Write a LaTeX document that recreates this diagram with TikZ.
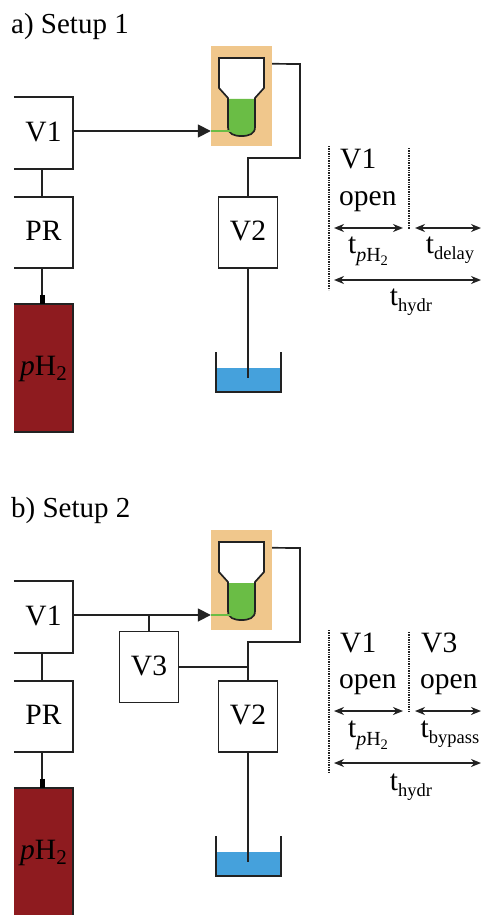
\documentclass[tikz,border=0pt]{standalone}
\usepackage{fontspec}
\setmainfont{Liberation Serif}
\usetikzlibrary{arrows.meta}
\definecolor{ink}{HTML}{222222}
\definecolor{orangebg}{HTML}{F0C78C}
\definecolor{liquid}{HTML}{6ABD45}
\definecolor{water}{HTML}{45A1DC}
\definecolor{bottle}{HTML}{8E1B1F}
\newcommand{\bigsz}{\fontsize{29.5}{31}\selectfont}
\newcommand{\titlesz}{\fontsize{29}{31}\selectfont}
\newcommand{\subsz}{\fontsize{18.5}{20}\selectfont}
\newcommand{\phsz}{\fontsize{20}{22}\selectfont}
\newcommand{\subbsz}{\fontsize{14.5}{16}\selectfont}
\newcommand{\gassz}{\fontsize{21}{23}\selectfont}
\newcommand{\tsub}[1]{{\bigsz t}\raisebox{-6pt}{\subsz #1}}
\newcommand{\tph}{{\bigsz t}\raisebox{-8pt}{\phsz \textit{p}H\raisebox{-4pt}{\subbsz 2}}}
\tikzset{
  x=1pt,y=-1pt,
  wire/.style={draw=ink,line width=1.7pt},
  boxtext/.style={minimum width=59pt,minimum height=71pt,inner sep=0pt,font=\bigsz,text=black,text height=20pt,text depth=4pt},
  valvebox/.style={wire,fill=white,boxtext},
  openbox/.style={boxtext},
  label/.style={anchor=base west,inner sep=0pt,font=\bigsz,text=black},
  titlelabel/.style={anchor=base west,inner sep=0pt,font=\titlesz,text=black},
  timelabel/.style={anchor=base,inner sep=0pt,text=black},
  dots/.style={draw=ink,line width=1.6pt,dash pattern=on 1.3pt off 1.1pt},
  span/.style={draw=ink,line width=1.7pt,{Stealth[length=10pt,width=8pt]}-{Stealth[length=10pt,width=8pt]}},
  bigarrow/.style={wire,-{Triangle[length=13pt,width=13pt]}},
  pwire/.style={wire,line join=miter}
}
\newcommand{\rig}{%
  % pH2 bottle
  \node[minimum width=59pt,minimum height=128pt,inner sep=0pt,fill=bottle,font=\bigsz,text=black,text height=20pt,text depth=6pt] (gas) at (43.5,368) {\textit{p}H\raisebox{-5pt}{\gassz 2}};
  \draw[wire] (gas.north west) -- (gas.north east) -- (gas.south east) -- (gas.south west);
  % V1 and PR
  \node[openbox] (v1) at (43.5,133) {V1};
  \draw[wire] (v1.north west) -- (v1.north east) -- (v1.south east) -- (v1.south west);
  \node[openbox] (pr) at (43.5,232.5) {PR};
  \draw[wire] (pr.north west) -- (pr.north east) -- (pr.south east) -- (pr.south west);
  \draw[wire] ([xshift=-1.2pt]v1.south) -- ([xshift=-1.2pt]pr.north);
  \draw[wire] ([xshift=-1.2pt]pr.south) -- ([xshift=-1.2pt]gas.north);
  \draw[draw=black,line width=5.5pt] ([xshift=-1.2pt,yshift=9pt]gas.north) -- ([xshift=-1.2pt]gas.north);
  % warm bath and vessel
  \node[fill=orangebg,minimum width=61pt,minimum height=100pt,inner sep=0pt] (bath) at (241.5,96) {};
  \coordinate (inlet) at (bath.west |- 0,131);
  \coordinate (tip) at (233,131);
  \path[fill=white] (219,58) -- (264,58) -- (264,88) -- (255,98) -- (255,127) .. controls (255,134) and (249,136) .. (241.5,136) .. controls (234,136) and (228,134) .. (228,127) -- (228,98) -- (219,88) -- cycle;
  \path[fill=liquid] (228,99) -- (255,99) -- (255,127) .. controls (255,134) and (249,136) .. (241.5,136) .. controls (234,136) and (228,134) .. (228,127) -- cycle;
  \draw[pwire] (219,58) -- (264,58) -- (264,88) -- (255,98) -- (255,127) .. controls (255,134) and (249,136) .. (241.5,136) .. controls (234,136) and (228,134) .. (228,127) -- (228,98) -- (219,88) -- cycle;
  \draw[liquid,line width=1.5pt] (inlet) -- (tip);
  \coordinate (v1out) at ([yshift=2pt]v1.east);
  \draw[bigarrow] (v1out) -- (inlet);
  % V2, drain and beaker
  \node[valvebox] (v2) at (248,232.5) {V2};
  \coordinate (bathout) at ([yshift=-18pt]bath.north east);
  \draw[pwire] (bathout) -- (300,64) -- (300,158) -- (248,158) -- (v2.north);
  \fill[water] (216,368) rectangle (281,392);
  \coordinate (drain) at (v2.south |- 0,378);
  \draw[wire] (v2.south) -- (drain);
  \draw[pwire] (216,352) -- (216,392) -- (281,392) -- (281,352);
}
\begin{document}
\begin{tikzpicture}
\useasboundingbox[fill=white] (0,0) rectangle (481,915);
\begin{scope}[name prefix=a-]
  \node[titlelabel] (title) at (11,34) {a) Setup 1};
  \rig
  \coordinate (l0) at (329,146); \coordinate (l1) at (329,290);
  \coordinate (m0) at (409,148); \coordinate (m1) at (409,229);
  \draw[dots] (l0) -- (l1);
  \draw[dots] (m0) -- (m1);
  \node[label] (tv) at (340,168) {V1};
  \node[label] (to) at (339,205) {open};
  \coordinate (a0) at (334,228); \coordinate (a1) at (403,228);
  \coordinate (b0) at (415,228); \coordinate (b1) at (481,228);
  \coordinate (c0) at (334,280); \coordinate (c1) at (481,280);
  \draw[span] (a0) -- (a1);
  \draw[span] (b0) -- (b1);
  \draw[span] (c0) -- (c1);
  \node[timelabel] (t1) at (368,253) {\tph};
  \node[timelabel] (t2) at (450,253) {\tsub{delay}};
  \node[timelabel] (t3) at (411,305) {\tsub{hydr}};
\end{scope}
\begin{scope}[yshift=-484pt,name prefix=b-]
  \node[titlelabel] (title) at (11,33) {b) Setup 2};
  \rig
  \node[valvebox] (v3) at (149,183) {V3};
  \coordinate (tap) at (v3.north |- v1out);
  \draw[wire] (v3.north) -- (tap);
  \coordinate (join) at (v3.east -| v2.north);
  \draw[wire] (v3.east) -- (join);
  \coordinate (l0) at (329,146); \coordinate (l1) at (329,289);
  \coordinate (m0) at (409,148); \coordinate (m1) at (409,228);
  \draw[dots] (l0) -- (l1);
  \draw[dots] (m0) -- (m1);
  \node[label] (tv) at (340,168) {V1};
  \node[label] (to) at (339,204) {open};
  \node[label] (tw) at (421,168) {V3};
  \node[label] (tx) at (420,204) {open};
  \coordinate (a0) at (334,227); \coordinate (a1) at (403,227);
  \coordinate (b0) at (415,227); \coordinate (b1) at (481,227);
  \coordinate (c0) at (334,279); \coordinate (c1) at (481,279);
  \draw[span] (a0) -- (a1);
  \draw[span] (b0) -- (b1);
  \draw[span] (c0) -- (c1);
  \node[timelabel] (t1) at (368,253) {\tph};
  \node[timelabel] (t2) at (450,253) {\tsub{bypass}};
  \node[timelabel] (t3) at (411,306) {\tsub{hydr}};
\end{scope}
\end{tikzpicture}
\end{document}
